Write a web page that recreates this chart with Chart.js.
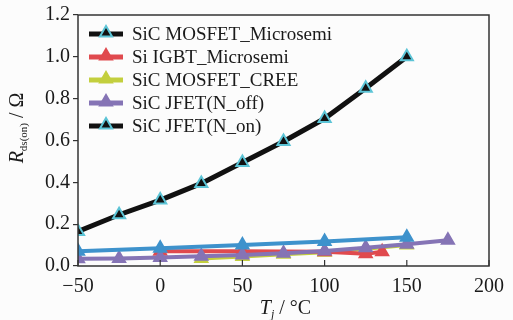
<!DOCTYPE html>
<html>
<head>
<meta charset="utf-8">
<script src="https://cdn.jsdelivr.net/npm/chart.js@4.4.1/dist/chart.umd.min.js"></script>
<style>
  html, body { margin: 0; padding: 0; background: #fcfcfc; }
  #wrap { width: 513px; height: 320px; }
</style>
</head>
<body>
<div id="wrap"><canvas id="rds"></canvas></div>
<script>
// temperatures (degC) and on-resistance (ohm) for each device
var seriesNames = ['SiC MOSFET_Microsemi', 'Si IGBT_Microsemi', 'SiC MOSFET_CREE', 'SiC JFET(N_off)', 'SiC JFET(N_on)'];

var tMosMicro = [-50, -25, 0, 25, 50, 75, 100, 125, 150];
var rMosMicro = [0.165, 0.245, 0.315, 0.395, 0.495, 0.595, 0.705, 0.85, 1.0];

var tIgbt = [0, 50, 100, 125, 135];
var rIgbt = [0.07, 0.07, 0.068, 0.058, 0.068];

var tMosCree = [25, 50, 75, 100, 125, 150];
var rMosCree = [0.036, 0.046, 0.056, 0.066, 0.082, 0.1];

var tJfetOff = [-50, -25, 0, 25, 50, 75, 100, 125, 150, 175];
var rJfetOff = [0.035, 0.036, 0.041, 0.047, 0.053, 0.061, 0.072, 0.087, 0.104, 0.123];

var tJfetOn = [-50, 0, 50, 100, 150];
var rJfetOn = [0.07, 0.085, 0.1, 0.117, 0.137];

var xTicks = [-50, 0, 50, 100, 150, 200];
var yTicks = [0, 0.2, 0.4, 0.6, 0.8, 1.0, 1.2];

var serif = '"Liberation Serif", "Times New Roman", serif';

function pts(t, r)
{
    return t.map(function (v, i) { return { x: v, y: r[i] }; });
}

function series(i, t, r, line, fill, edge, width, order)
{
    return {
        label: seriesNames[i],
        data: pts(t, r),
        borderColor: line,
        borderWidth: width,
        pointStyle: 'triangle',
        pointRadius: 7,
        pointBackgroundColor: fill,
        pointBorderColor: edge,
        pointBorderWidth: 2,
        tension: 0,
        order: order
    };
}

var datasets = [
    series(0, tMosMicro, rMosMicro, '#111111', '#111111', '#5cc4d6', 5, 0),
    series(1, tIgbt, rIgbt, '#e04a4e', '#e04a4e', '#e04a4e', 4, 3),
    series(2, tMosCree, rMosCree, '#c3cf3e', '#c3cf3e', '#c3cf3e', 4, 4),
    series(3, tJfetOff, rJfetOff, '#8574b5', '#8574b5', '#8574b5', 4, 2),
    series(4, tJfetOn, rJfetOn, '#3e92cc', '#3e92cc', '#3e92cc', 4, 1)
];

// what the legend shows for each entry (line colour, marker fill, marker edge)
var legendLook = [
    ['#111111', '#111111', '#5cc4d6'],
    ['#e04a4e', '#e04a4e', '#e04a4e'],
    ['#c3cf3e', '#c3cf3e', '#c3cf3e'],
    ['#8574b5', '#8574b5', '#8574b5'],
    ['#111111', '#111111', '#5cc4d6']
];

function tri(ctx, x, y, r, fill, edge)
{
    ctx.beginPath();
    ctx.moveTo(x, y - r);
    ctx.lineTo(x + r * 0.866, y + r * 0.5);
    ctx.lineTo(x - r * 0.866, y + r * 0.5);
    ctx.closePath();
    ctx.fillStyle = fill;
    ctx.fill();
    ctx.lineWidth = 2;
    ctx.strokeStyle = edge;
    ctx.stroke();
}

var decor = {
    id: 'decor',
    afterDatasetsDraw: function (chart)
    {
        var ctx = chart.ctx;
        var a = chart.chartArea;
        var xs = chart.scales.x;
        ctx.save();

        // frame
        ctx.strokeStyle = '#333';
        ctx.lineWidth = 1.5;
        ctx.strokeRect(a.left, a.top, a.right - a.left, a.bottom - a.top);

        // x ticks point inwards
        ctx.lineWidth = 1.2;
        xTicks.forEach(function (v)
        {
            var px = xs.getPixelForValue(v);
            ctx.beginPath();
            ctx.moveTo(px, a.bottom);
            ctx.lineTo(px, a.bottom - 6);
            ctx.stroke();
        });

        // legend
        ctx.font = '19px ' + serif;
        ctx.textBaseline = 'middle';
        ctx.textAlign = 'left';
        seriesNames.forEach(function (name, i)
        {
            var y = a.top + 19 + i * 23;
            var x0 = a.left + 11;
            ctx.strokeStyle = legendLook[i][0];
            ctx.lineWidth = 5;
            ctx.beginPath();
            ctx.moveTo(x0, y);
            ctx.lineTo(x0 + 34, y);
            ctx.stroke();
            tri(ctx, x0 + 17, y - 1, 7, legendLook[i][1], legendLook[i][2]);
            ctx.fillStyle = '#1a1a1a';
            ctx.fillText(name, x0 + 43, y + 1);
        });

        // axis titles with subscripts
        ctx.fillStyle = '#1a1a1a';
        ctx.textBaseline = 'alphabetic';
        var big = '20px ' + serif, bigI = 'italic 20px ' + serif, small = '11px ' + serif, smallI = 'italic 12px ' + serif;

        function runs(parts)
        {
            var w = 0;
            parts.forEach(function (p) { ctx.font = p[1]; w += ctx.measureText(p[0]).width; });
            return w;
        }
        function put(parts, x, y)
        {
            parts.forEach(function (p)
            {
                ctx.font = p[1];
                ctx.fillText(p[0], x, y + p[2]);
                x += ctx.measureText(p[0]).width;
            });
        }

        var xt = [['T', bigI, 0], ['j', smallI, 4], [' / \u00b0C', big, 0]];
        var wx = runs(xt);
        put(xt, (a.left + a.right) / 2 + 2 - wx / 2, 314);

        var yt = [['R', bigI, 0], ['ds(on)', small, 4], [' / \u03a9', big, 0]];
        var wy = runs(yt);
        ctx.translate(23, 128);
        ctx.rotate(-Math.PI / 2);
        put(yt, -wy / 2, 0);

        ctx.restore();
    }
};

new Chart(document.getElementById('rds'),
{
    type: 'line',
    data: { datasets: datasets },
    options:
    {
        responsive: true,
        maintainAspectRatio: false,
        animation: false,
        layout: { padding: { top: 12, right: 20, left: 0, bottom: 0 } },
        plugins:
        {
            legend: { display: false },
            tooltip: { enabled: false }
        },
        scales:
        {
            x:
            {
                type: 'linear',
                min: -50,
                max: 200,
                afterBuildTicks: function (s) { s.ticks = xTicks.map(function (v) { return { value: v }; }); },
                afterFit: function (s) { s.height = 54; },
                grid: { display: false, drawTicks: false },
                border: { display: false },
                ticks:
                {
                    padding: 9,
                    color: '#1a1a1a',
                    font: { family: serif, size: 20 },
                    callback: function (v) { return v < 0 ? '\u2212' + Math.abs(v) : String(v); }
                }
            },
            y:
            {
                min: 0,
                max: 1.2,
                afterBuildTicks: function (s) { s.ticks = yTicks.map(function (v) { return { value: v }; }); },
                afterFit: function (s) { s.width = 78; },
                grid: { drawOnChartArea: false, tickLength: 5, color: '#333', lineWidth: 1.2 },
                border: { display: false },
                ticks:
                {
                    padding: 3,
                    color: '#1a1a1a',
                    font: { family: serif, size: 20 },
                    callback: function (v) { return v.toFixed(1); }
                }
            }
        }
    },
    plugins: [decor]
});
</script>
</body>
</html>
